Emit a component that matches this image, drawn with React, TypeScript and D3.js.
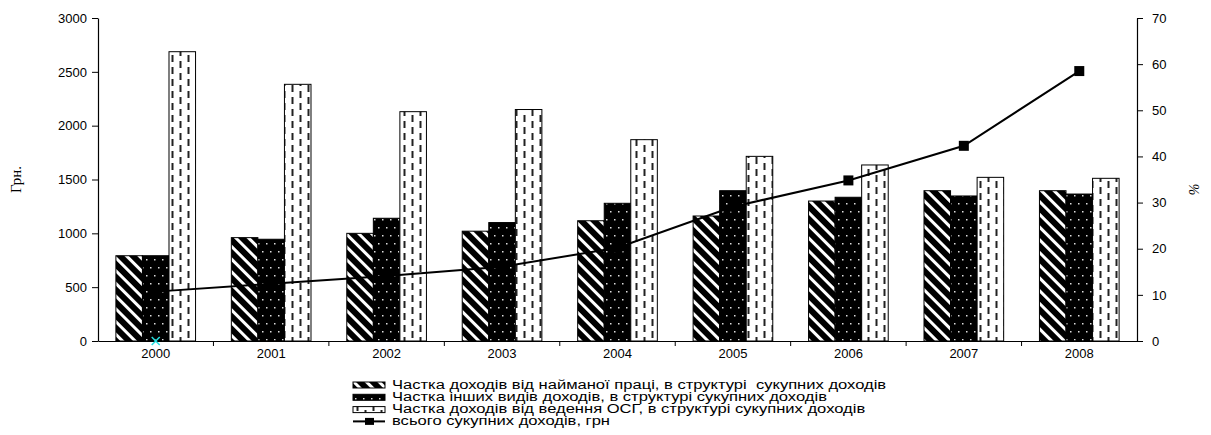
import { useEffect, useRef } from "react";
import * as d3 from "d3";

const years = ["2000", "2001", "2002", "2003", "2004", "2005", "2006", "2007", "2008"];
const wageIncome = [792, 960, 1000, 1020, 1117, 1161, 1300, 1396, 1396];
const otherIncome = [792, 945, 1140, 1100, 1279, 1396, 1335, 1347, 1365];
const farmIncome = [2687, 2384, 2130, 2150, 1870, 1715, 1635, 1520, 1511];
const totalPct = [10.7, 12.4, 14.1, 16.1, 20.2, 29.1, 34.8, 42.3, 58.5];
const leftTicks = [0, 500, 1000, 1500, 2000, 2500, 3000];
const rightTicks = [0, 10, 20, 30, 40, 50, 60, 70];
const legendLabels = [
  "Частка доходів від найманої праці, в структурі  сукупних доходів",
  "Частка інших видів доходів, в структурі сукупних доходів",
  "Частка доходів від ведення ОСГ, в структурі сукупних доходів",
  "всього сукупних доходів, грн",
];

const W = 1211;
const H = 435;
const font = "Liberation Sans, Arial, sans-serif";

export default function App() {
  const ref = useRef<SVGSVGElement | null>(null);

  useEffect(() => {
    if (!ref.current) return;
    const svg = d3.select(ref.current);
    svg.selectAll("*").remove();

    const left = 98, right = 1137, top = 18, bottom = 341;

    // patterns
    const defs = svg.append("defs");
    const hatch = defs
      .append("pattern")
      .attr("id", "hatch")
      .attr("patternUnits", "userSpaceOnUse")
      .attr("width", 9)
      .attr("height", 9)
      .attr("patternTransform", "rotate(45)");
    hatch.append("rect").attr("width", 9).attr("height", 9).attr("fill", "#000");
    hatch.append("rect").attr("y", 0).attr("width", 9).attr("height", 3).attr("fill", "#fff");

    const dots = defs
      .append("pattern")
      .attr("id", "dots")
      .attr("patternUnits", "userSpaceOnUse")
      .attr("width", 8)
      .attr("height", 16);
    dots.append("rect").attr("width", 8).attr("height", 16).attr("fill", "#000");
    dots.append("rect").attr("x", 2).attr("y", 3).attr("width", 1.5).attr("height", 1.5).attr("fill", "#ddd");
    dots.append("rect").attr("x", 6).attr("y", 11).attr("width", 1.5).attr("height", 1.5).attr("fill", "#ddd");

    const dash = defs
      .append("pattern")
      .attr("id", "dash")
      .attr("patternUnits", "userSpaceOnUse")
      .attr("width", 16)
      .attr("height", 12);
    dash.append("rect").attr("width", 16).attr("height", 12).attr("fill", "#fff");
    dash.append("rect").attr("x", 3.5).attr("y", 1).attr("width", 2).attr("height", 7).attr("fill", "#222");
    dash.append("rect").attr("x", 11.5).attr("y", 7).attr("width", 2).attr("height", 5).attr("fill", "#222");
    dash.append("rect").attr("x", 11.5).attr("y", 0).attr("width", 2).attr("height", 2).attr("fill", "#222");

    const x = d3.scaleBand<string>().domain(years).range([left, right]);
    const yL = d3.scaleLinear().domain([0, 3000]).range([bottom, top]);
    const yR = d3.scaleLinear().domain([0, 70]).range([bottom, top]);
    const bw = x.bandwidth() * 0.23;

    const series = [
      { vals: wageIncome, fill: "url(#hatch)" },
      { vals: otherIncome, fill: "url(#dots)" },
      { vals: farmIncome, fill: "url(#dash)" },
    ];

    const g = svg.append("g");
    series.forEach((s, si) => {
      g.append("g")
        .selectAll("rect")
        .data(years)
        .join("rect")
        .attr("x", (d) => x(d)! + x.bandwidth() / 2 + (si - 1.5) * bw)
        .attr("y", (_, i) => yL(s.vals[i]))
        .attr("width", bw)
        .attr("height", (_, i) => bottom - yL(s.vals[i]))
        .attr("fill", s.fill)
        .attr("stroke", "#000")
        .attr("stroke-width", 1);
    });

    // axes
    const axL = g
      .append("g")
      .attr("transform", `translate(${left},0)`)
      .call(
        d3.axisLeft(yL).tickValues(leftTicks).tickFormat(d3.format("d")).tickSize(6).tickSizeOuter(0).tickPadding(5)
      );
    const axR = g
      .append("g")
      .attr("transform", `translate(${right},0)`)
      .call(d3.axisRight(yR).tickValues(rightTicks).tickSize(6).tickSizeOuter(0).tickPadding(9));
    const axB = g
      .append("g")
      .attr("transform", `translate(0,${bottom})`)
      .call(d3.axisBottom(x).tickSize(0).tickSizeOuter(0).tickPadding(8));
    [axL, axR, axB].forEach((a) => {
      a.select(".domain").attr("stroke", "#000").attr("stroke-width", 1.2);
      a.selectAll("line").attr("stroke", "#000");
      a.selectAll("text").attr("font-family", font).attr("font-size", 13).attr("fill", "#000");
    });
    // category separators on x axis
    axB
      .selectAll("line.sep")
      .data(years.slice(1))
      .join("line")
      .attr("class", "sep")
      .attr("x1", (d) => x(d)!)
      .attr("x2", (d) => x(d)!)
      .attr("y1", 0)
      .attr("y2", 5)
      .attr("stroke", "#000");

    // line series
    const line = d3
      .line<number>()
      .x((_, i) => x(years[i])! + x.bandwidth() / 2)
      .y((d) => yR(d));
    g.append("path")
      .datum(totalPct)
      .attr("d", line)
      .attr("fill", "none")
      .attr("stroke", "#000")
      .attr("stroke-width", 2);
    g.selectAll("rect.mk")
      .data(totalPct)
      .join("rect")
      .attr("class", "mk")
      .attr("x", (_, i) => x(years[i])! + x.bandwidth() / 2 - 5)
      .attr("y", (d) => yR(d) - 5)
      .attr("width", 10)
      .attr("height", 10)
      .attr("fill", "#000");

    // small cyan cross at 2000 baseline
    const cx = x(years[0])! + x.bandwidth() / 2;
    g.append("path")
      .attr("d", `M${cx - 4},${bottom - 4}L${cx + 4},${bottom + 4}M${cx - 4},${bottom + 4}L${cx + 4},${bottom - 4}`)
      .attr("stroke", "#22e0e0")
      .attr("stroke-width", 1.5);

    // axis titles
    svg.append("text")
      .attr("transform", `translate(21,${(top + bottom) / 2}) rotate(-90)`)
      .attr("text-anchor", "middle")
      .attr("font-family", "Liberation Serif, Times New Roman, serif")
      .attr("font-size", 15)
      .text("Грн.");
    svg.append("text")
      .attr("transform", `translate(1199,${(top + bottom) / 2 + 10}) rotate(-90)`)
      .attr("text-anchor", "middle")
      .attr("font-family", "Liberation Serif, Times New Roman, serif")
      .attr("font-style", "italic")
      .attr("font-size", 14)
      .text("%");

    // legend
    const lg = svg.append("g").attr("transform", "translate(353,379)");
    const fills = ["url(#hatch)", "url(#dots)", "url(#dash)"];
    legendLabels.forEach((lab, i) => {
      const yy = i * 12.3;
      if (i < 3) {
        lg.append("rect")
          .attr("x", 0)
          .attr("y", yy + 3)
          .attr("width", 32)
          .attr("height", 6)
          .attr("fill", fills[i])
          .attr("stroke", "#000")
          .attr("stroke-width", 1);
      } else {
        lg.append("line")
          .attr("x1", 0)
          .attr("x2", 32)
          .attr("y1", yy + 5.5)
          .attr("y2", yy + 5.5)
          .attr("stroke", "#000")
          .attr("stroke-width", 2);
        lg.append("rect")
          .attr("x", 12)
          .attr("y", yy + 2)
          .attr("width", 9)
          .attr("height", 7)
          .attr("fill", "#000");
      }
      lg.append("text")
        .attr("transform", `translate(39,${yy + 9.5}) scale(1.38,1)`)
        .attr("font-family", font)
        .attr("font-size", 12)
        .style("white-space", "pre")
        .text(lab);
    });
  }, []);

  return (
    <svg
      ref={ref}
      width={W}
      height={H}
      style={{ position: "absolute", left: 0, top: 0, background: "#fff" }}
    />
  );
}
